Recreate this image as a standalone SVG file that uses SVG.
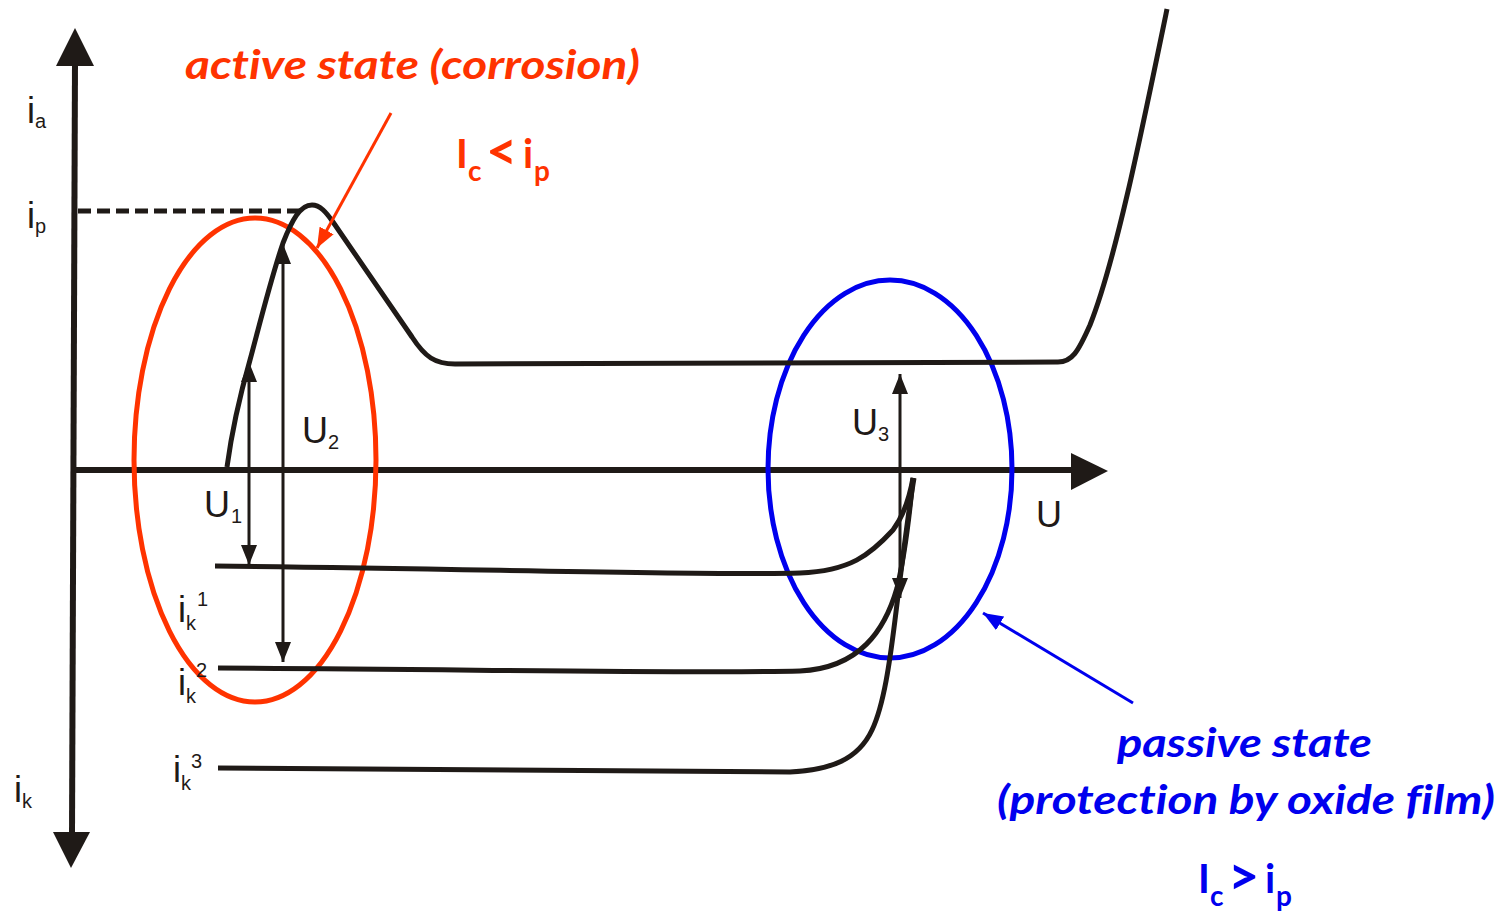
<svg xmlns="http://www.w3.org/2000/svg" width="1508" height="916" viewBox="0 0 1508 916">
<style>
.ax{stroke:#1f1a17;stroke-width:6;fill:none}
.cv{stroke:#1f1a17;stroke-width:5;fill:none;stroke-linecap:butt}
.thin{stroke:#1f1a17;stroke-width:3;fill:none}
.lbl{font-family:"Liberation Sans",Arial,sans-serif;fill:#1f1a17}
.big{font-size:36px}
.sub{font-size:20px}
.red{fill:#ff3300}
.blue{fill:#0000ee}
.cal{font-family:Lato,"Open Sans",sans-serif;font-weight:bold;font-variant-ligatures:none}
</style>
<defs>
<marker id="ah" viewBox="0 0 20 16" refX="20" refY="8" markerWidth="20" markerHeight="16" markerUnits="userSpaceOnUse" orient="auto-start-reverse">
<path d="M0,0 L20,8 L0,16 z" fill="#1f1a17"/>
</marker>
<marker id="ahr" viewBox="0 0 20 16" refX="20" refY="8" markerWidth="20" markerHeight="16" markerUnits="userSpaceOnUse" orient="auto">
<path d="M0,0 L20,8 L0,16 z" fill="#ff3300"/>
</marker>
<marker id="ahb" viewBox="0 0 20 16" refX="20" refY="8" markerWidth="20" markerHeight="16" markerUnits="userSpaceOnUse" orient="auto">
<path d="M0,0 L20,8 L0,16 z" fill="#0000ee"/>
</marker>
</defs>

<g id="axes">
<line class="ax" x1="75" y1="62" x2="72" y2="835"/>
<polygon points="75,28 56,66 94,66" fill="#1f1a17"/>
<polygon points="71,868 53,832 90,832" fill="#1f1a17"/>
<line class="ax" x1="72" y1="470" x2="1075" y2="470"/>
<polygon points="1108,471 1071,453 1071,490" fill="#1f1a17"/>
<line x1="78" y1="211" x2="300" y2="211" stroke="#1f1a17" stroke-width="5" stroke-dasharray="13,6"/>
</g>

<g id="ellipses">
<ellipse cx="255" cy="460" rx="121" ry="242" fill="none" stroke="#ff3300" stroke-width="5"/>
<ellipse cx="890" cy="469" rx="122" ry="189" fill="none" stroke="#0000ee" stroke-width="5"/>
</g>

<g id="curves">
<path class="cv" d="M227,467 C232,430 240,395 250,360 C262,315 272,275 283,243 C292,220 300,205 312,205 C320,205 326,212 333,222 L412,337 C425,357 435,364 455,364 L1058,362 C1072,362 1078,352 1090,325 C1115,262 1140,140 1167,9"/>
<path class="cv" d="M215,566 C450,568 700,576 800,573 C850,571 870,555 893,530 C904,515 910,495 913,478"/>
<path class="cv" d="M218,668 C450,669 700,674 800,671 C860,668 885,630 897,588 C905,555 910,510 913,478"/>
<path class="cv" d="M218,768 L790,772 C830,770 858,760 872,730 C884,705 890,660 895,620 C900,580 907,520 914,478"/>
</g>

<g id="connectors">
<line class="thin" x1="249" y1="362" x2="249" y2="565" marker-start="url(#ah)" marker-end="url(#ah)"/>
<line class="thin" x1="283" y1="244" x2="283" y2="662" marker-start="url(#ah)" marker-end="url(#ah)"/>
<line class="thin" x1="900" y1="374" x2="900" y2="598" marker-start="url(#ah)" marker-end="url(#ah)"/>
<line x1="391" y1="113" x2="317" y2="248" stroke="#ff3300" stroke-width="3" marker-end="url(#ahr)"/>
<line x1="1133" y1="703" x2="983" y2="613" stroke="#0000ee" stroke-width="3" marker-end="url(#ahb)"/>
</g>

<g id="axis-labels" class="lbl">
<text class="big" x="27" y="123">i</text><text class="sub" x="35" y="128">a</text>
<text class="big" x="27" y="228">i</text><text class="sub" x="35" y="233">p</text>
<text class="big" x="14" y="802">i</text><text class="sub" x="22" y="808">k</text>
<text class="big" x="204" y="517">U</text><text class="sub" x="231" y="523">1</text>
<text class="big" x="302" y="443">U</text><text class="sub" x="328" y="449">2</text>
<text class="big" x="852" y="435">U</text><text class="sub" x="878" y="441">3</text>
<text class="big" x="1036" y="527">U</text>
<text class="big" x="178" y="622">i</text><text class="sub" x="186" y="630">k</text><text class="sub" x="197" y="606">1</text>
<text class="big" x="178" y="695">i</text><text class="sub" x="186" y="703">k</text><text class="sub" x="196" y="677">2</text>
<text class="big" x="173" y="782">i</text><text class="sub" x="181" y="790">k</text><text class="sub" x="191" y="768">3</text>
</g>

<g id="active-label" class="cal red">
<text x="185" y="79" font-size="40" font-style="italic" textLength="455" lengthAdjust="spacingAndGlyphs">active state (corrosion)</text>
<text x="456" y="168" font-size="40">I</text>
<text x="468" y="181" font-size="28">c</text>
<text x="486" y="170" font-size="54">&lt;</text>
<text x="523" y="168" font-size="40">i</text>
<text x="534" y="181" font-size="28">p</text>
</g>

<g id="passive-label" class="cal blue">
<text x="1117" y="757" font-size="40" font-style="italic" textLength="255" lengthAdjust="spacingAndGlyphs">passive state</text>
<text x="997" y="814" font-size="40" font-style="italic" textLength="498" lengthAdjust="spacingAndGlyphs">(protection by oxide film)</text>
<text x="1198" y="893" font-size="40">I</text>
<text x="1210" y="906" font-size="28">c</text>
<text x="1228" y="895" font-size="54">&gt;</text>
<text x="1265" y="893" font-size="40">i</text>
<text x="1276" y="906" font-size="28">p</text>
</g>
</svg>
